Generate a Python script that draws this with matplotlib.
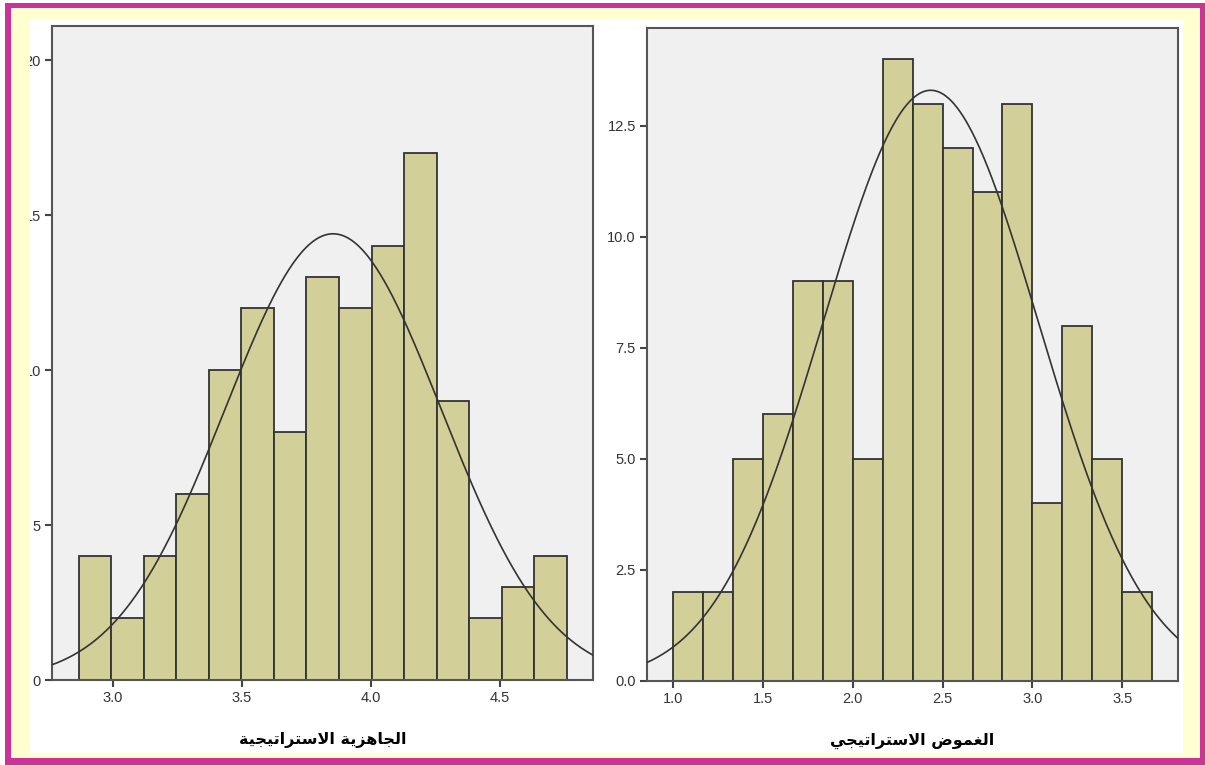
import numpy as np
import matplotlib
matplotlib.use('Agg')
import matplotlib.pyplot as plt
from matplotlib.patches import Rectangle

# --- data ---
label_left = 'الجاهزية الاستراتيجية'
counts_left = [4, 2, 4, 6, 10, 12, 8, 13, 12, 14, 17, 9, 2, 3, 4]
bin_start_left = 2.868
bin_width_left = 0.126
mean_left = 3.853
sd_left = 0.419
yticks_left = [0, 5, 10, 15, 20]
xticks_left = [3.0, 3.5, 4.0, 4.5]

label_right = 'الغموض الاستراتيجي'
counts_right = [2, 2, 5, 6, 9, 9, 5, 14, 13, 12, 11, 13, 4, 8, 5, 2]
bin_start_right = 1.0
bin_width_right = 1 / 6
mean_right = 2.434
sd_right = 0.60
yticks_right = [0.0, 2.5, 5.0, 7.5, 10.0, 12.5]
xticks_right = [1.0, 1.5, 2.0, 2.5, 3.0, 3.5]

# --- tiny arabic shaper (no reshaper lib available) ---
DUAL = {'ل': 0xFEDD, 'ج': 0xFE9D, 'ه': 0xFEE9, 'ي': 0xFEF1, 'س': 0xFEB1,
        'ت': 0xFE95, 'غ': 0xFECD, 'م': 0xFEE1, 'ض': 0xFEBD}
RIGHT = {'ا': 0xFE8D, 'ز': 0xFEAF, 'ة': 0xFE93, 'ر': 0xFEAD, 'و': 0xFEED,
         'LA': 0xFEFB}


def shape_arabic(text):
    letters = []
    i = 0
    while i < len(text):
        if text[i] == 'ل' and i + 1 < len(text) and text[i + 1] == 'ا':
            letters.append('LA')
            i += 2
        else:
            letters.append(text[i])
            i += 1
    out = []
    for k, c in enumerate(letters):
        prev = letters[k - 1] if k > 0 else ' '
        nxt = letters[k + 1] if k + 1 < len(letters) else ' '
        jp = prev in DUAL
        if c in DUAL:
            jn = nxt in DUAL or nxt in RIGHT
            off = {(False, False): 0, (True, False): 1, (False, True): 2, (True, True): 3}[(jp, jn)]
            out.append(chr(DUAL[c] + off))
        elif c in RIGHT:
            out.append(chr(RIGHT[c] + (1 if jp else 0)))
        else:
            out.append(c)
    return ''.join(out)[::-1]


W, H = 1205, 765
fig = plt.figure(figsize=(W / 100, H / 100), dpi=100)
fig.patch.set_facecolor('white')

bar_color = '#d3cf98'
edge_color = '#333333'
tick_font = ['Liberation Sans Narrow', 'Liberation Sans', 'DejaVu Sans']


def px_axes(x0, y0, x1, y1):
    return fig.add_axes([x0 / W, 1 - y1 / H, (x1 - x0) / W, (y1 - y0) / H])


def histo(ax, counts, start, width, mean, sd, xlim, ylim, xticks, yticks, yfmt, label):
    counts = np.array(counts)
    edges = start + width * np.arange(len(counts) + 1)
    ax.set_facecolor('#f0f0f0')
    ax.bar(edges[:-1], counts, width=width, align='edge', color=bar_color,
           edgecolor=edge_color, linewidth=1.3, zorder=2)
    xs = np.linspace(xlim[0], xlim[1], 400)
    ys = counts.sum() * width / (sd * np.sqrt(2 * np.pi)) * np.exp(-0.5 * ((xs - mean) / sd) ** 2)
    ax.plot(xs, ys, color='#333333', linewidth=1.2, zorder=3)
    ax.set_xlim(*xlim)
    ax.set_ylim(*ylim)
    ax.set_xticks(xticks)
    ax.set_xticklabels(['%.1f' % t for t in xticks])
    ax.set_yticks(yticks)
    ax.set_yticklabels([yfmt % t for t in yticks])
    for sp in ax.spines.values():
        sp.set_color('#555555')
        sp.set_linewidth(1.5)
    ax.tick_params(direction='out', length=5, width=1.5, color='#444444',
                   labelsize=10.5, labelcolor='#333333', pad=3)
    for t in ax.get_xticklabels() + ax.get_yticklabels():
        t.set_family(tick_font)
    ax.set_xlabel(shape_arabic(label), fontsize=11.5, fontweight='bold',
                  family=['DejaVu Sans'], color='#000000')
    ax.xaxis.set_label_coords(0.5, -0.079)
    ax.xaxis.label.set_va('top')


ax1 = px_axes(52, 26, 593, 680)
histo(ax1, counts_left, bin_start_left, bin_width_left, mean_left, sd_left,
      (2.764, 4.86), (0, 21.1), xticks_left, yticks_left, '%d', label_left)

ax2 = px_axes(647, 28, 1178, 681)
histo(ax2, counts_right, bin_start_right, bin_width_right, mean_right, sd_right,
      (0.855, 3.81), (0, 14.7), xticks_right, yticks_right, '%.1f', label_right)

# frame: yellow band and magenta border, drawn on top so it clips the labels
def strip(x0, y0, x1, y1, color):
    fig.add_artist(Rectangle((x0 / W, 1 - y1 / H), (x1 - x0) / W, (y1 - y0) / H,
                             transform=fig.transFigure, facecolor=color,
                             edgecolor='none', zorder=10))


yellow = '#ffffd0'
magenta = '#cc3399'
strip(11, 8, 30, 758, yellow)
strip(1183, 8, 1200, 758, yellow)
strip(11, 8, 1200, 19, yellow)
strip(11, 753, 1200, 758, yellow)
strip(5, 3, 11, 765, magenta)
strip(1200, 3, 1205, 765, magenta)
strip(5, 3, 1205, 8, magenta)
strip(5, 758, 1205, 765, magenta)

fig.savefig('out.png', dpi=100)
